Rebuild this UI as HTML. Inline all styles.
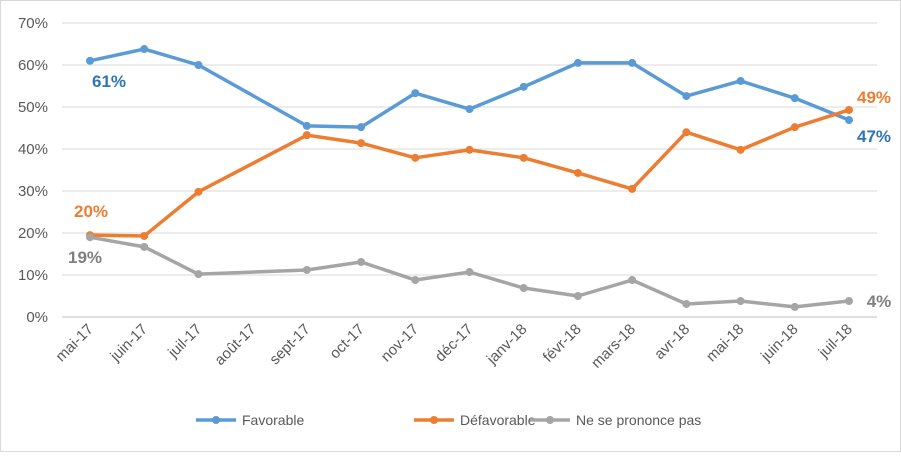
<!DOCTYPE html>
<html><head><meta charset="utf-8"><style>
body{margin:0;background:#fff;font-family:"Liberation Sans",sans-serif}
svg text{font-family:"Liberation Sans",sans-serif}
</style></head><body>
<svg id="chart" width="901" height="452" viewBox="0 0 901 452" xmlns="http://www.w3.org/2000/svg">
<rect x="0.5" y="0.5" width="900" height="451" fill="#fff" stroke="#d9d9d9"/>
<g id="grid"></g><g id="yax"></g><g id="xax"></g><g id="series"></g><g id="labels"></g>
<g id="legend"></g>
</svg>
<script>
const categories=["mai-17","juin-17","juil-17","août-17","sept-17","oct-17","nov-17","déc-17","janv-18","févr-18","mars-18","avr-18","mai-18","juin-18","juil-18"];
const favorable=[61,63.8,60,null,45.5,45.2,53.3,49.5,54.8,60.5,60.5,52.6,56.2,52.1,46.9];
const defavorable=[19.5,19.3,29.8,null,43.3,41.4,37.9,39.8,37.9,34.3,30.5,44,39.8,45.2,49.3];
const nsp=[19,16.7,10.2,null,11.2,13.1,8.8,10.7,6.9,5,8.8,3.1,3.8,2.4,3.8];
const yTicks=[0,10,20,30,40,50,60,70];
const seriesNames=["Favorable","Défavorable","Ne se prononce pas"];
const ns="http://www.w3.org/2000/svg";
const X=i=>90+i*(849-90)/(categories.length-1);
const Y=v=>317-v*4.2;
function mk(t,a,p){const e=document.createElementNS(ns,t);for(const k in a)e.setAttribute(k,a[k]);p.appendChild(e);return e;}
const grid=document.getElementById('grid'),yax=document.getElementById('yax'),xax=document.getElementById('xax');
yTicks.forEach(v=>{
 const l=mk('line',{x1:62,x2:877,y1:Y(v),y2:Y(v),stroke:v===0?'#bfbfbf':'#d9d9d9'},grid);
 
 
 const t=mk('text',{x:48,y:Y(v)+5,'text-anchor':'end','font-size':15,fill:'#595959'},yax);t.textContent=v+'%';
 
 
});
categories.forEach((c,i)=>{
 const t=mk('text',{x:X(i)+4,y:330,'text-anchor':'end','font-size':15,fill:'#595959',transform:`rotate(-45 ${X(i)+4} 330)`},xax);t.textContent=c;
 
 
});
const colors=["#5B9BD5","#ED7D31","#A5A5A5"];
const sg=document.getElementById('series');
[favorable,defavorable,nsp].forEach((d,s)=>{
 const g=mk('g',{},sg);
 
 
 const pts=[];d.forEach((v,i)=>{if(v!==null)pts.push(X(i)+','+Y(v));});
 mk('polyline',{points:pts.join(' '),fill:'none',stroke:colors[s],'stroke-width':3.5,'stroke-linejoin':'round'},g);
 d.forEach((v,i)=>{if(v===null)return;const c=mk('circle',{cx:X(i),cy:Y(v),r:4,fill:colors[s]},g);
  
  });
});
const lg=document.getElementById('labels');
function lab(txt,x,y,col,anchor){const t=mk('text',{x:x,y:y,'font-size':17,'font-weight':'bold',fill:col,'text-anchor':anchor||'middle'},lg);t.textContent=txt;
 
 }
const n=categories.length-1;
lab(Math.round(favorable[0])+'%',X(0)+19,Y(favorable[0])+26,'#2E75B6');
lab(Math.round(defavorable[0])+'%',X(0)+1,Y(defavorable[0])-18,'#ED7D31');
lab(Math.round(nsp[0])+'%',X(0)-5,Y(nsp[0])+26,'#7F7F7F');
lab(Math.round(defavorable[n])+'%',X(n)+25,Y(defavorable[n])-7,'#ED7D31');
lab(Math.round(favorable[n])+'%',X(n)+25,Y(favorable[n])+22,'#2E75B6');
lab(Math.round(nsp[n])+'%',X(n)+30,Y(nsp[n])+6,'#7F7F7F');
const leg=document.getElementById('legend');
const lx=[196,414,530];
seriesNames.forEach((s,i)=>{
 const g=mk('g',{},leg);
 
 
 mk('line',{x1:lx[i],x2:lx[i]+40,y1:420,y2:420,stroke:colors[i],'stroke-width':3.5},g);
 mk('circle',{cx:lx[i]+20,cy:420,r:4,fill:colors[i]},g);
 const t=mk('text',{x:lx[i]+46,y:425,'font-size':14,fill:'#595959'},g);t.textContent=s;
});
</script>
</body></html>
